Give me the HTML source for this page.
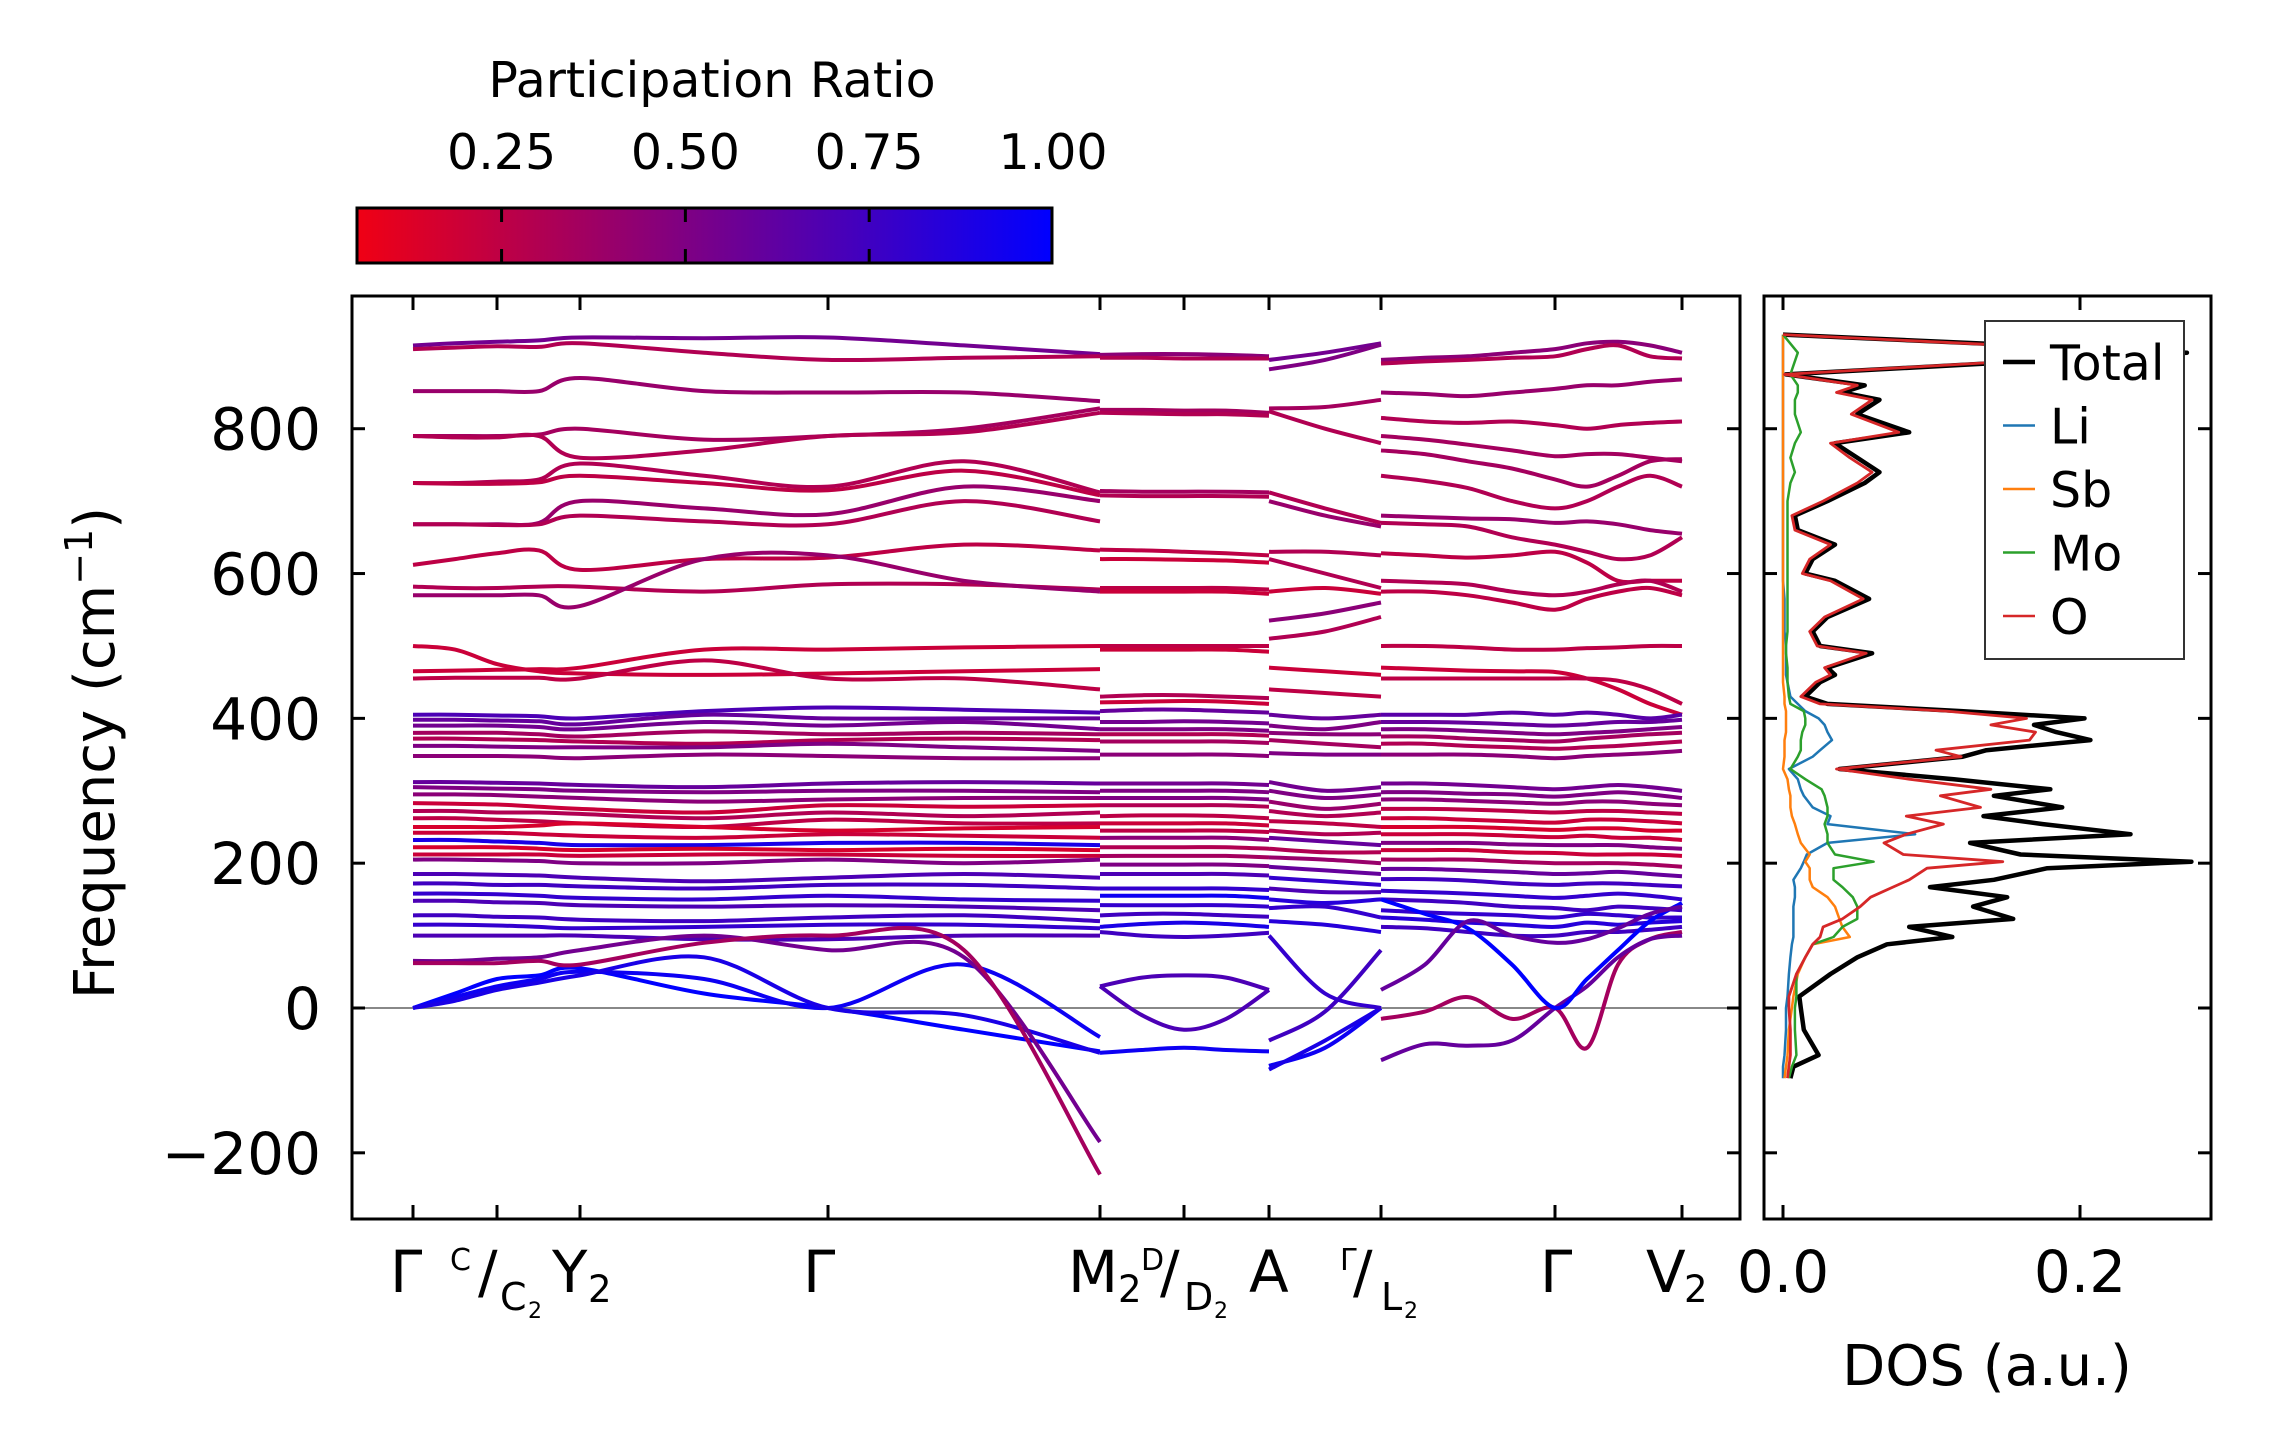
<!DOCTYPE html>
<html><head><meta charset="utf-8"><style>
html,body{margin:0;padding:0;background:#fff;}
svg{display:block;font-family:"DejaVu Sans","Liberation Sans",sans-serif;}
</style></head><body>
<svg id="fig" width="2271" height="1455" viewBox="0 0 2271 1455" xmlns="http://www.w3.org/2000/svg">
<defs>
<linearGradient id="cbgrad" x1="0" x2="1" y1="0" y2="0">
<stop offset="0" stop-color="rgb(240,0,20)"/><stop offset="1" stop-color="rgb(0,0,255)"/>
</linearGradient>
<clipPath id="mainclip"><rect x="352" y="296" width="1387" height="922"/></clipPath>
<clipPath id="dosclip"><rect x="1764" y="296" width="446" height="922"/></clipPath>
</defs>
<g id="colorbar">
<text x="712" y="97" font-size="49" text-anchor="middle">Participation Ratio</text>
<rect x="357" y="208" width="695" height="55" fill="url(#cbgrad)" stroke="#000" stroke-width="3"/>
</g>
<g id="mainax"></g>
<g id="dosax"></g>
<g id="xlabels" font-size="58">
<text x="390" y="1292">Γ</text>
<text><tspan x="450" y="1270" font-size="30">C</tspan><tspan x="478" y="1292">/</tspan><tspan x="500" y="1310" font-size="38">C</tspan><tspan x="528" y="1318" font-size="22">2</tspan></text>
<text><tspan x="552" y="1292">Y</tspan><tspan x="588" y="1302" font-size="37">2</tspan></text>
<text x="803" y="1292">Γ</text>
<text><tspan x="1068" y="1292">M</tspan><tspan x="1118" y="1302" font-size="37">2</tspan></text>
<text><tspan x="1141" y="1270" font-size="30">D</tspan><tspan x="1160" y="1292">/</tspan><tspan x="1184" y="1310" font-size="38">D</tspan><tspan x="1214" y="1318" font-size="22">2</tspan></text>
<text x="1249" y="1292">A</text>
<text><tspan x="1340" y="1270" font-size="30">Γ</tspan><tspan x="1353" y="1292">/</tspan><tspan x="1381" y="1310" font-size="38">L</tspan><tspan x="1404" y="1318" font-size="22">2</tspan></text>
<text x="1540" y="1292">Γ</text>
<text><tspan x="1646" y="1292">V</tspan><tspan x="1684" y="1302" font-size="37">2</tspan></text>
</g>
<text transform="translate(114,753) rotate(-90)" text-anchor="middle" font-size="56">Frequency (cm<tspan font-size="38" dy="-22">−1</tspan><tspan dy="22">)</tspan></text>
</svg>
<script>
// ---------- data ----------
const kTicks = [0, 0.84, 1.67, 4.15, 6.87, 7.71, 8.56, 9.68, 11.42, 12.69];
const yTicks = [-200, 0, 200, 400, 600, 800];
const cbTicks = [0.25, 0.5, 0.75, 1.0];
const cbLabels = ["0.25", "0.50", "0.75", "1.00"];

const seg1K = [0, 0.42, 0.84, 1.26, 1.67, 2.91, 4.15, 5.51, 6.87];
const seg1Bands = [
[915,918,920,922,926,925,926,915,903],[910,912,914,913,918,905,895,898,900],
[852,852,852,852,870,852,850,850,838],[790,790,790,792,800,785,790,800,828],
[790,788,788,790,760,770,790,795,822],[725,725,727,730,752,735,720,755,712],
[725,724,724,726,735,725,715,742,708],[668,668,668,670,700,690,682,720,700],
[668,668,667,668,680,672,668,700,672],[612,620,628,632,605,620,622,640,632],
[582,580,580,582,582,575,585,585,578],[570,570,570,570,555,620,625,590,575],
[500,495,475,465,462,460,462,465,468],[465,466,467,468,470,495,495,498,500],
[455,456,456,456,455,480,455,455,440],
[405,405,404,403,400,410,415,412,408],[398,398,397,396,392,405,400,400,400],
[390,390,390,388,385,395,390,395,385],[380,380,380,378,375,382,378,380,378],
[372,372,371,370,368,365,370,372,370],[362,362,361,360,360,360,365,360,355],
[348,348,348,347,345,350,348,345,345],[312,312,311,310,308,305,310,312,310],
[305,304,303,302,300,298,300,300,298],[295,295,294,292,290,285,288,290,290],
[283,282,281,278,275,270,280,278,280],[272,272,270,270,268,262,270,265,270],
[262,262,260,258,255,250,260,255,255],[250,250,250,252,255,250,245,248,250],
[242,242,242,240,238,235,240,238,235],[232,232,230,228,225,225,228,228,225],
[222,222,222,220,218,220,218,220,218],[212,212,212,212,210,212,212,210,210],
[205,205,204,203,200,200,205,200,205],[185,185,184,183,180,175,180,185,180],
[172,172,170,170,168,165,170,170,165],[158,158,157,155,152,150,155,150,148],
[148,148,146,145,142,140,142,140,135],[128,128,126,125,122,120,125,128,120],
[115,115,114,112,110,112,115,115,110],[100,100,100,100,100,95,95,100,100],
[0,20,40,45,55,20,0,-30,-60],[0,15,30,40,50,40,0,60,-40],[0,10,25,35,45,70,0,-10,-62],
[65,65,68,70,80,100,80,70,-185],[62,62,62,65,60,90,100,80,-230]
];
const seg1PR = [.55,.3,.4,.35,.3,.3,.25,.4,.3,.25,.3,.4,.2,.2,.25,
.7,.6,.55,.35,.3,.5,.45,.6,.5,.45,.2,.3,.25,.15,.2,.9,.15,.2,.5,.7,.75,.8,.7,.75,.8,.7,
1.0,.95,.9,.55,.35];

const seg2K = [6.87, 7.29, 7.71, 8.13, 8.56];
const seg2Bands = [
[902,903,903,902,900],[898,898,897,897,897],[826,826,825,825,822],[822,821,820,820,818],
[714,713,713,713,712],[708,707,707,707,706],[633,632,630,628,625],[620,620,619,618,615],
[580,580,580,580,578],[575,575,575,575,572],[500,500,500,500,500],[495,495,495,495,492],
[430,432,432,430,428],[422,423,424,423,420],
[410,412,412,410,408],[395,395,396,395,393],[385,385,385,385,383],[378,378,378,378,376],
[368,368,368,368,366],[350,350,350,350,348],[310,310,310,310,308],[300,300,300,300,298],
[290,290,290,290,288],[280,280,280,280,278],[265,266,266,265,262],[255,255,255,255,252],
[245,245,245,245,243],[235,235,235,235,232],[222,222,222,222,220],[210,210,210,210,208],
[198,198,198,198,196],[185,185,185,185,183],[165,165,165,165,163],[155,155,155,155,152],
[142,142,142,142,140],[128,130,130,128,126],[112,116,118,116,112],[105,100,98,100,104],
[30,42,45,42,25],[30,-10,-30,-15,25],[-62,-58,-55,-58,-60]
];
const seg2PR = [.45,.3,.35,.3,.35,.3,.25,.2,.25,.2,.25,.2,.3,.2,
.6,.55,.5,.3,.35,.45,.55,.5,.5,.3,.25,.2,.25,.45,.3,.35,.5,.7,.8,.95,.8,.75,.9,.75,
.7,.7,.95];

const seg3K = [8.56, 9.12, 9.68];
const seg3Bands = [
[895,905,918],[882,895,916],[828,830,840],[824,800,780],[712,690,670],[700,680,665],
[630,630,625],[620,600,580],[575,580,572],[535,545,560],[510,520,540],[470,465,460],[440,435,430],
[405,400,405],[390,385,395],[380,378,378],[370,365,360],[352,350,350],[312,300,305],
[300,290,295],[285,275,282],[272,265,270],[258,255,250],[245,240,242],[235,230,225],
[220,215,215],[208,205,200],[195,190,185],[180,175,170],[165,160,160],[150,145,150],
[138,140,125],[120,115,105],
[-45,-5,80],[-80,-55,0],[-85,-45,0],[100,20,0]
];
const seg3PR = [.55,.5,.35,.3,.3,.4,.3,.3,.2,.45,.3,.2,.25,
.6,.5,.45,.35,.5,.55,.5,.4,.3,.25,.3,.6,.3,.4,.6,.8,.7,.85,.8,.85,
.75,.95,.9,.8];

const seg4K = [9.68, 10.12, 10.55, 10.99, 11.42, 11.74, 12.05, 12.37, 12.69];
const seg4Bands = [
[895,898,900,905,910,918,920,915,905],[890,893,895,898,900,910,915,900,897],
[850,848,845,850,855,860,860,865,868],[815,810,808,810,805,800,805,808,810],
[790,785,778,770,762,765,765,760,755],[770,765,755,745,730,720,735,755,758],
[735,728,718,700,690,700,720,735,720],[680,678,676,675,670,672,668,660,655],
[670,668,665,650,640,630,620,625,650],[628,625,622,625,630,615,590,590,590],
[590,588,585,575,570,575,585,590,575],[575,575,570,560,550,565,575,580,570],
[500,500,498,495,495,497,498,500,500],[470,468,466,465,464,455,440,420,405],
[455,455,455,455,455,455,452,440,420],
[405,405,405,408,405,408,405,400,405],[395,395,394,392,390,392,395,395,398],
[385,385,383,380,378,380,382,385,388],[375,375,372,370,368,372,375,378,380],
[365,365,362,360,358,360,362,365,368],[350,350,350,348,345,348,350,352,355],
[310,310,308,305,302,305,308,305,300],[298,298,296,295,292,295,298,295,290],
[288,288,286,284,282,285,285,282,280],[275,275,274,272,270,272,272,270,268],
[262,262,260,258,256,260,260,258,255],[250,250,250,248,246,248,248,245,245],
[240,240,240,238,236,238,235,235,232],[228,228,228,226,225,225,225,222,220],
[218,218,218,215,214,212,212,212,210],[205,205,205,202,200,200,200,198,195],
[192,192,190,188,185,186,188,185,182],[178,178,176,172,170,172,172,170,168],
[162,160,158,155,152,155,158,155,150],[150,148,145,140,138,135,140,138,135],
[135,132,130,128,125,130,128,125,125],[125,122,118,115,112,118,115,118,120],
[112,110,105,100,100,105,105,108,112],
[-15,-5,15,-15,0,-55,60,95,105],[-72,-50,-52,-45,0,30,70,95,100],
[150,130,110,60,0,40,80,120,145],[25,60,120,100,90,95,110,130,140]
];
const seg4PR = [.45,.3,.4,.3,.35,.35,.3,.4,.3,.25,.3,.25,.25,.2,.25,
.65,.6,.5,.35,.3,.45,.55,.5,.45,.25,.2,.15,.2,.5,.2,.35,.6,.75,.8,.75,.8,.85,.75,
.35,.6,1.0,.6];

const dosFreq = [-97,-81,-65,-30,0,16,47,70,88,98,112,123,140,153,167,177,193,202,212,228,240,254,265,277,293,302,316,330,347,356,370,381,391,400,410,
420,430,450,460,470,490,500,520,540,565,590,600,620,640,660,680,700,725,740,760,780,795,820,840,850,860,875,905,930];
const dosTotal = [.005,.007,.024,.014,.012,.011,.032,.05,.07,.114,.085,.155,.128,.151,.099,.142,.178,.275,.16,.126,.234,.175,.135,.188,.142,.18,.115,.038,.121,.137,.207,.184,.169,.203,.12,
.03,.015,.025,.035,.03,.06,.025,.02,.03,.058,.035,.015,.02,.035,.01,.008,.03,.055,.065,.05,.035,.085,.05,.065,.04,.055,.002,.272,0];
const dosO = [.003,.004,.005,.005,.004,.004,.009,.015,.02,.025,.027,.04,.052,.059,.074,.085,.097,.148,.081,.068,.083,.108,.083,.133,.106,.14,.085,.036,.12,.103,.166,.17,.14,.164,.11,
.025,.012,.022,.032,.028,.056,.023,.018,.028,.054,.032,.013,.018,.032,.008,.006,.027,.05,.06,.045,.032,.078,.046,.06,.036,.05,.001,.255,0];
const dosLi = [0,0,.001,.002,.002,.003,.004,.005,.006,.007,.007,.007,.007,.008,.008,.007,.012,.014,.016,.03,.089,.03,.032,.02,.014,.012,.01,.004,.02,.025,.033,.03,.028,.024,.015,
.01,.005,.003,.002,.002,.002,.002,.001,.001,.001,0,0,0,0,0,0,0,0,0,0,0,0,0,0,0,0,0,0,0];
const dosSb = [.001,.002,.003,.004,.006,.007,.01,.015,.02,.045,.04,.038,.035,.03,.02,.018,.018,.015,.018,.012,.01,.008,.006,.005,.005,.004,.003,0,.001,.001,.001,.002,.002,.002,.002,
.001,.001,0,0,0,0,0,0,0,0,0,0,0,0,0,0,0,0,0,0,0,0,0,0,0,0,0,0,0];
const dosMo = [.004,.006,.009,.008,.008,.009,.009,.015,.02,.034,.04,.05,.05,.047,.04,.034,.034,.061,.035,.03,.03,.028,.03,.03,.028,.026,.015,.005,.01,.012,.012,.013,.015,.015,.014,
.005,.004,.003,.003,.003,.002,.002,.003,.003,.003,.003,.003,.003,.003,.003,.003,.003,.005,.008,.005,.008,.012,.008,.008,.01,.01,.005,.01,0];
const legendNames = ["Total","Li","Sb","Mo","O"];
const legendColors = ["#000000","#1f77b4","#ff7f0e","#2ca02c","#d62728"];
const dosTicks = [0.0, 0.2];

// ---------- scales ----------
const NS = "http://www.w3.org/2000/svg";
const yS = v => 1008 - v * 0.7241;
const kS = k => 413 + k * 100;
const dS = v => 1783 + v * 1485;
const cbS = v => 356 + (v - 0.052) / 0.948 * 697;
function prColor(p){ const t = Math.max(0, Math.min(1, (p - 0.05) / 0.95));
  return `rgb(${Math.round(240*(1-t))},0,${Math.round(20+235*t)})`; }
function mk(tag, attrs, parent){ const e = document.createElementNS(NS, tag);
  for (const a in attrs) e.setAttribute(a, attrs[a]); parent.appendChild(e); return e; }
function smooth(pts){
  let d = `M${pts[0][0]},${pts[0][1]}`;
  for (let i = 0; i < pts.length - 1; i++){
    const p0 = pts[Math.max(0,i-1)], p1 = pts[i], p2 = pts[i+1], p3 = pts[Math.min(pts.length-1,i+2)];
    const c1x = p1[0] + (p2[0]-p0[0])/6, c1y = p1[1] + (p2[1]-p0[1])/6;
    const c2x = p2[0] - (p3[0]-p1[0])/6, c2y = p2[1] - (p3[1]-p1[1])/6;
    d += ` C${c1x.toFixed(1)},${c1y.toFixed(1)} ${c2x.toFixed(1)},${c2y.toFixed(1)} ${p2[0].toFixed(1)},${p2[1].toFixed(1)}`;
  }
  return d;
}
const main = document.getElementById('mainax');
const dos = document.getElementById('dosax');
const cbar = document.getElementById('colorbar');

// colorbar ticks
cbTicks.forEach((t, i) => {
  const x = cbS(t);
  if (t < 0.99){
    const a = mk('line', {x1:x, x2:x, y1:208, y2:222, stroke:'#000', 'stroke-width':3}, cbar);
    
    
    const b = mk('line', {x1:x, x2:x, y1:249, y2:263, stroke:'#000', 'stroke-width':3}, cbar);
    
    
  }
  const tx = mk('text', {x:x, y:169, 'font-size':49, 'text-anchor':'middle'}, cbar);
  
  
  tx.textContent = cbLabels[i];
});

// bands
const bandGroup = mk('g', {'clip-path':'url(#mainclip)'}, main);


const zl = mk('line', {x1:352, x2:1740, y1:yS(0), y2:yS(0), stroke:'#888', 'stroke-width':2}, bandGroup);


[[seg1K,seg1Bands,seg1PR],[seg2K,seg2Bands,seg2PR],[seg3K,seg3Bands,seg3PR],[seg4K,seg4Bands,seg4PR]].forEach(s => {
  const [ks, bands, prs] = s;
  bands.forEach((b, bi) => {
    const pts = b.map((v, i) => [kS(ks[i]), yS(v)]);
    const p = mk('path', {d:smooth(pts), fill:'none', stroke:prColor(prs[bi]), 'stroke-width':4}, bandGroup);
    
    
  });
});

// main axes frame and ticks
const fr = mk('rect', {x:352, y:296, width:1388, height:923, fill:'none', stroke:'#000', 'stroke-width':3}, main);


yTicks.forEach(v => {
  const y = yS(v);
  const t1 = mk('line', {x1:352, x2:365, y1:y, y2:y, stroke:'#000', 'stroke-width':3}, main);
  
  
  const t2 = mk('line', {x1:1727, x2:1740, y1:y, y2:y, stroke:'#000', 'stroke-width':3}, main);
  
  
  const t3 = mk('line', {x1:1764, x2:1777, y1:y, y2:y, stroke:'#000', 'stroke-width':3}, dos);
  
  
  const t4 = mk('line', {x1:2198, x2:2211, y1:y, y2:y, stroke:'#000', 'stroke-width':3}, dos);
  
  
  const lb = mk('text', {x:321, y:y+21, 'font-size':58, 'text-anchor':'end'}, main);
  
  
  lb.textContent = v < 0 ? '\u2212' + Math.abs(v) : String(v);
});
kTicks.forEach(k => {
  const x = kS(k);
  const a = mk('line', {x1:x, x2:x, y1:296, y2:310, stroke:'#000', 'stroke-width':3}, main);
  
  
  const b = mk('line', {x1:x, x2:x, y1:1205, y2:1219, stroke:'#000', 'stroke-width':3}, main);
  
  
});

// DOS panel
const dg = mk('g', {'clip-path':'url(#dosclip)'}, dos);


const series = [dosTotal, dosLi, dosSb, dosMo, dosO];
const widths = [4.5, 2.5, 2.5, 2.5, 2.8];
series.forEach((arr, si) => {
  const pts = dosFreq.map((f, i) => dS(arr[i]).toFixed(1) + ',' + yS(f).toFixed(1)).join(' ');
  const pl = mk('polyline', {points:pts, fill:'none', stroke:legendColors[si], 'stroke-width':widths[si], 'stroke-linejoin':'round'}, dg);
  
  
});
const fr2 = mk('rect', {x:1764, y:296, width:447, height:923, fill:'none', stroke:'#000', 'stroke-width':3}, dos);


dosTicks.forEach(v => {
  const x = dS(v);
  const a = mk('line', {x1:x, x2:x, y1:296, y2:310, stroke:'#000', 'stroke-width':3}, dos);
  
  
  const b = mk('line', {x1:x, x2:x, y1:1205, y2:1219, stroke:'#000', 'stroke-width':3}, dos);
  
  
  const t = mk('text', {x:x, y:1292, 'font-size':58, 'text-anchor':'middle'}, dos);
  
  
  t.textContent = v.toFixed(1);
});
const xt = mk('text', {x:1987, y:1385, 'font-size':56, 'text-anchor':'middle'}, dos);


xt.textContent = 'DOS (a.u.)';
const lg = mk('g', {}, dos);


const box = mk('rect', {x:1985, y:321, width:199, height:338, fill:'#fff', stroke:'#333', 'stroke-width':2}, lg);


legendNames.forEach((n, i) => {
  const y = 362 + i * 63.5;
  const l = mk('line', {x1:2003, x2:2035, y1:y, y2:y, stroke:legendColors[i], 'stroke-width':i === 0 ? 4.5 : 2.5}, lg);
  
  
  const t = mk('text', {x:2050, y:y + 18, 'font-size':49}, lg);
  
  
  t.textContent = n;
});
</script>
</body></html>
